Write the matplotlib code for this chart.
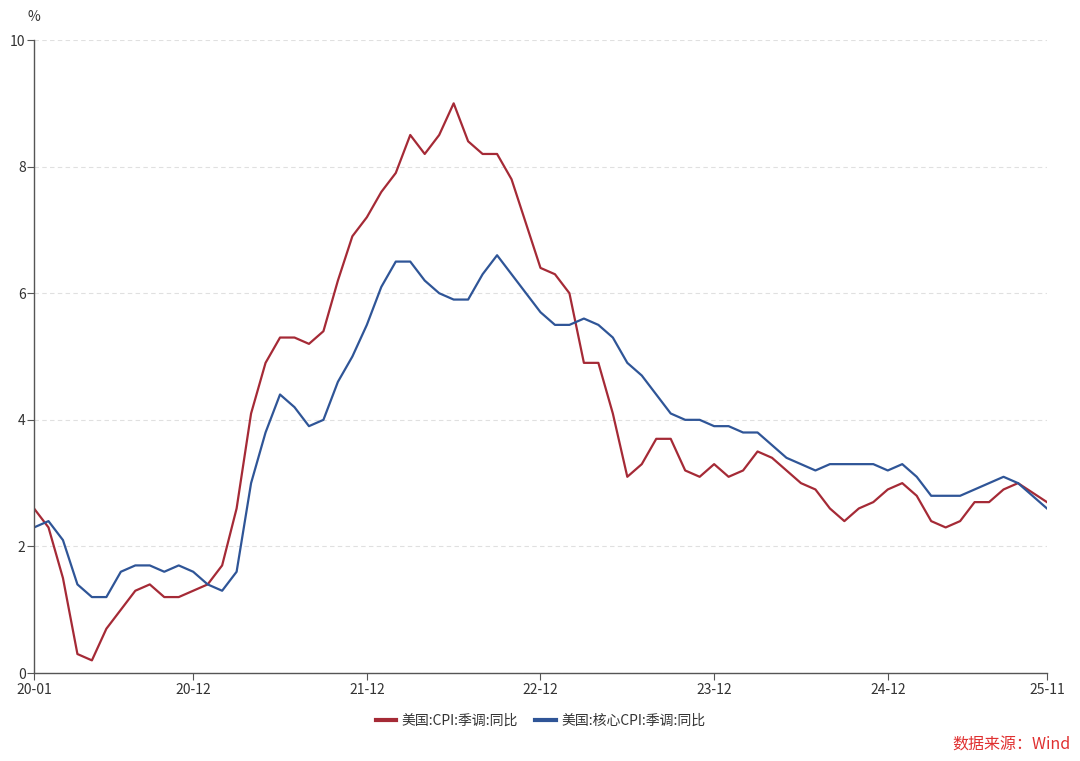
import matplotlib
matplotlib.use('Agg')
import matplotlib.pyplot as plt
import numpy as np

plt.rcParams['font.family'] = ['Noto Sans CJK SC', 'DejaVu Sans']

# Data: monthly, 2020-01 .. 2025-11 (2025-10 missing)
months = [f'{y % 100:02d}-{m:02d}' for y in range(2020, 2026) for m in range(1, 13)][:71]

cpi = [2.6, 2.3, 1.5, 0.3, 0.2, 0.7, 1.0, 1.3, 1.4, 1.2, 1.2, 1.3,
       1.4, 1.7, 2.6, 4.1, 4.9, 5.3, 5.3, 5.2, 5.4, 6.2, 6.9, 7.2,
       7.6, 7.9, 8.5, 8.2, 8.5, 9.0, 8.4, 8.2, 8.2, 7.8, 7.1, 6.4,
       6.3, 6.0, 4.9, 4.9, 4.1, 3.1, 3.3, 3.7, 3.7, 3.2, 3.1, 3.3,
       3.1, 3.2, 3.5, 3.4, 3.2, 3.0, 2.9, 2.6, 2.4, 2.6, 2.7, 2.9,
       3.0, 2.8, 2.4, 2.3, 2.4, 2.7, 2.7, 2.9, 3.0, np.nan, 2.7]

core_cpi = [2.3, 2.4, 2.1, 1.4, 1.2, 1.2, 1.6, 1.7, 1.7, 1.6, 1.7, 1.6,
            1.4, 1.3, 1.6, 3.0, 3.8, 4.4, 4.2, 3.9, 4.0, 4.6, 5.0, 5.5,
            6.1, 6.5, 6.5, 6.2, 6.0, 5.9, 5.9, 6.3, 6.6, 6.3, 6.0, 5.7,
            5.5, 5.5, 5.6, 5.5, 5.3, 4.9, 4.7, 4.4, 4.1, 4.0, 4.0, 3.9,
            3.9, 3.8, 3.8, 3.6, 3.4, 3.3, 3.2, 3.3, 3.3, 3.3, 3.3, 3.2,
            3.3, 3.1, 2.8, 2.8, 2.8, 2.9, 3.0, 3.1, 3.0, np.nan, 2.6]

tick_labels = ['20-01', '20-12', '21-12', '22-12', '23-12', '24-12', '25-11']

x = np.arange(len(months))
cpi = np.array(cpi)
core_cpi = np.array(core_cpi)

fig = plt.figure(figsize=(10.8, 7.61), dpi=100)
ax = fig.add_axes([0.0315, 0.1156, 0.9379, 0.8318])

ok1 = ~np.isnan(cpi)
ok2 = ~np.isnan(core_cpi)
ax.plot(x[ok1], cpi[ok1], color='#a52a36', lw=1.6, label='美国:CPI:季调:同比')
ax.plot(x[ok2], core_cpi[ok2], color='#2f5597', lw=1.6, label='美国:核心CPI:季调:同比')

ax.set_xlim(0, len(months) - 1)
ax.set_ylim(0, 10)
ax.set_yticks([0, 2, 4, 6, 8, 10])
ticks_pos = [months.index(t) for t in tick_labels]
ax.set_xticks(ticks_pos)
ax.set_xticklabels(tick_labels)

ax.grid(axis='y', ls=(0, (4, 3)), color='#e0e0e0', lw=0.8)
ax.set_axisbelow(True)
for s in ['top', 'right']:
    ax.spines[s].set_visible(False)
for s in ['left', 'bottom']:
    ax.spines[s].set_color('#555555')
    ax.spines[s].set_linewidth(1.0)
ax.tick_params(axis='both', colors='#555555', labelcolor='#333333', labelsize=10, length=5)
ax.tick_params(axis='y', pad=1)
ax.tick_params(axis='x', pad=2)

ax.text(-0.0, 1.025, '%', transform=ax.transAxes, ha='center', va='bottom', fontsize=10, color='#333333')

ax.legend(loc='upper center', bbox_to_anchor=(0.5, -0.045), ncol=2, frameon=False,
          fontsize=10, handlelength=1.5, handletextpad=0.4, columnspacing=1.2,
          labelcolor='#333333')
leg = ax.get_legend()
for h in leg.get_lines():
    h.set_linewidth(3)

fig.text(0.991, 0.021, '数据来源：Wind', ha='right', va='center', fontsize=11.5, color='#e03030')

fig.savefig('out.png', dpi=100)
